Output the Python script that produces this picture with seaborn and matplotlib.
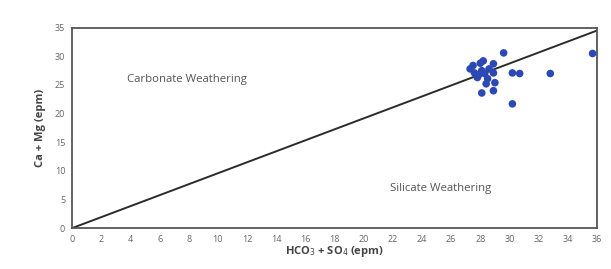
import matplotlib
matplotlib.use('Agg')
import matplotlib.pyplot as plt
import numpy as np
import seaborn as sns
import pandas as pd

sns.set_style('white')
plt.rcParams['font.family'] = ['Open Sans', 'DejaVu Sans']

# HCO3 + SO4 (epm) vs Ca + Mg (epm)
hco3_so4 = [27.5, 28.2, 28.9, 27.6, 28.1, 28.3, 28.9, 27.8, 28.5, 29.0,
            30.2, 30.7, 28.1, 28.9, 30.2, 29.6, 32.8, 35.7,
            27.3, 28.0, 28.6, 27.9, 28.4]
ca_mg = [28.4, 29.2, 28.7, 27.1, 27.5, 27.0, 27.1, 26.3, 26.1, 25.4,
         27.1, 27.0, 23.6, 24.0, 21.7, 30.6, 27.0, 30.5,
         27.8, 28.8, 27.8, 26.8, 25.2]
df = pd.DataFrame({'x': hco3_so4, 'y': ca_mg})

# 1:1 equiline endpoints
line_x = [0, 36]
line_y = [0, 34.5]

x_ticks = np.arange(0, 37, 2)
y_ticks = np.arange(0, 36, 5)

fig = plt.figure(figsize=(6.11, 2.69), dpi=100)
ax = fig.add_axes([0.118, 0.152, 0.859, 0.745])

ax.plot(line_x, line_y, color='#2b2b2b', linewidth=1.4, zorder=1)
sns.scatterplot(data=df, x='x', y='y', ax=ax, color='#2c48b5', s=30,
                edgecolor='none', zorder=3, clip_on=False)

ax.text(3.8, 26.0, 'Carbonate Weathering', fontsize=8.2, color='#555555', va='center')
ax.text(21.8, 7.0, 'Silicate Weathering', fontsize=8.2, color='#555555', va='center')

ax.set_xlim(0, 36)
ax.set_ylim(0, 35)
ax.set_xticks(x_ticks)
ax.set_yticks(y_ticks)
ax.tick_params(labelsize=6.5, colors='#666666', length=0, pad=5)
ax.set_xlabel('HCO$_3$ + SO$_4$ (epm)', fontsize=8, fontweight='bold', color='#444444', labelpad=0)
ax.set_ylabel('Ca + Mg (epm)', fontsize=8, fontweight='bold', color='#444444', labelpad=6)
for s in ax.spines.values():
    s.set_color('#555555')
    s.set_linewidth(1.3)

plt.savefig('out.png', dpi=100, facecolor='white')
plt.close()
